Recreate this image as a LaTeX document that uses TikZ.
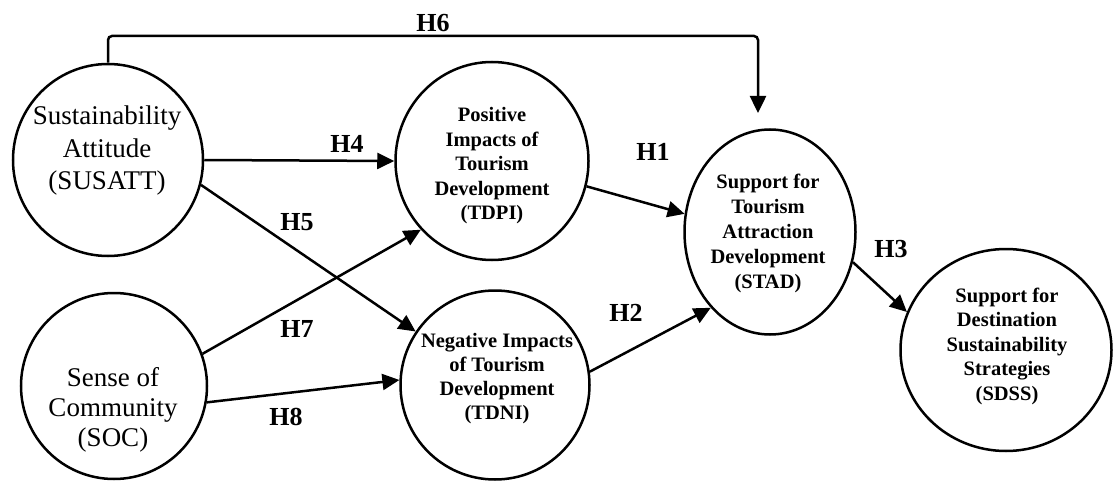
\documentclass[tikz,border=0pt]{standalone}
\usepackage{fontspec}
\setmainfont{Liberation Serif}
\usetikzlibrary{arrows.meta,shapes.geometric}
\begin{document}
\begin{tikzpicture}[x=1pt,y=-1pt,
  cons/.style={draw=black, line width=2.5pt, ellipse, inner sep=0pt},
  txt/.style={align=center, inner sep=0pt},
  hyp/.style={inner sep=0pt, font=\bfseries\fontsize{26}{30}\selectfont},
  arr/.style={line width=2.5pt, -{Triangle[length=17pt,width=16pt]}}
]
\useasboundingbox[fill=white] (0,0) rectangle (1114,484);

% constructs
\node[cons, minimum width=190pt, minimum height=192pt] (susatt) at (108,160) {};
\node[cons, minimum width=186pt, minimum height=186pt] (soc) at (114,386) {};
\node[cons, minimum width=193pt, minimum height=198pt] (tdpi) at (492,161) {};
\node[cons, minimum width=189pt, minimum height=189pt] (tdni) at (495,385) {};
\node[cons, minimum width=171pt, minimum height=205pt] (stad) at (770,232) {};
\node[cons, minimum width=211pt, minimum height=202pt] (sdss) at (1006,350) {};

% texts
\node[txt, font=\fontsize{27}{32.5}\selectfont] (susattT) at (107,151) {Sustainability\\Attitude\\(SUSATT)};
\node[txt, font=\fontsize{27}{30}\selectfont] (socT) at (113,410) {Sense of\\Community\\(SOC)};
\node[txt, font=\bfseries\fontsize{20.5}{24.5}\selectfont] (tdpiT) at (492,166) {Positive\\Impacts of\\Tourism\\Development\\(TDPI)};
\node[txt, font=\bfseries\fontsize{20.5}{24}\selectfont] (tdniT) at (497,379) {Negative Impacts\\of Tourism\\Development\\(TDNI)};
\node[txt, font=\bfseries\fontsize{20.5}{25}\selectfont] (stadT) at (768,233) {Support for\\Tourism\\Attraction\\Development\\(STAD)};
\node[txt, font=\bfseries\fontsize{20.5}{24.5}\selectfont] (sdssT) at (1007,346) {Support for\\Destination\\Sustainability\\Strategies\\(SDSS)};

% H6 path
\coordinate (h6corner) at (758,36);
\coordinate (h6end) at (758,113);
\draw[arr, rounded corners=4pt] (susatt.north) |- (h6corner) -- (h6end);

% connectors
\draw[arr] (susatt.east) -- (tdpi.west);
\draw[arr] (susatt.-15) -- (tdni.146);
\draw[arr] (soc.20) -- (tdpi.224);
\draw[arr] (soc.-10.6) -- (tdni.177);
\draw[arr] (tdpi.-15) -- (stad.168);
\draw[arr] (tdni.8) -- (stad.232);
\draw[arr] (stad.-20) -- (sdss.159);

% hypothesis labels
\node[hyp] (h6) at (433,23) {H6};
\node[hyp] (h4) at (347,144) {H4};
\node[hyp] (h5) at (297,222) {H5};
\node[hyp] (h7) at (297,329) {H7};
\node[hyp] (h8) at (286,417) {H8};
\node[hyp] (h1) at (653,152) {H1};
\node[hyp] (h2) at (626,313) {H2};
\node[hyp] (h3) at (891,249) {H3};
\end{tikzpicture}
\end{document}
